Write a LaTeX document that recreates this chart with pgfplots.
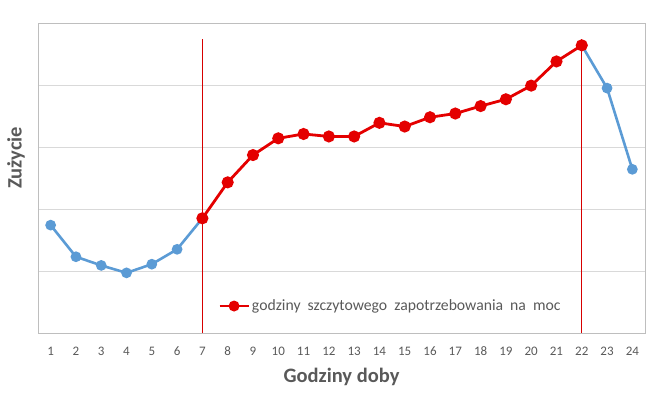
\documentclass[border=0pt]{standalone}
\usepackage{fontspec}
\setmainfont{Carlito}
\usepackage{pgfplots}
\pgfplotsset{compat=1.18}
\definecolor{cblue}{RGB}{91,155,213}
\definecolor{cred}{RGB}{228,0,0}
\definecolor{cvline}{RGB}{215,0,0}
\definecolor{cgrid}{RGB}{217,217,217}
\definecolor{cframe}{RGB}{190,190,190}
\definecolor{ctext}{RGB}{89,89,89}
\begin{document}
\begin{tikzpicture}[x=1pt,y=1pt]
\path[use as bounding box] (0,0) rectangle (662,392);
\begin{axis}[
  at={(38pt,59pt)}, anchor=south west,
  scale only axis, width=607pt, height=310pt,
  xmin=0.5, xmax=24.5, ymin=0, ymax=5,
  xtick={1,...,24},
  xticklabels={1,2,3,4,5,6,7,8,9,10,11,12,13,14,15,16,17,18,19,20,21,22,23,24},
  ytick={1,2,3,4}, yticklabels={},
  major tick length=0pt,
  ymajorgrids, grid style={cgrid, line width=0.8pt},
  axis line style={cframe, line width=0.8pt},
  tick label style={font=\fontsize{13}{15}\selectfont, text=ctext},
  xticklabel style={anchor=base, yshift=-22pt},
  xlabel={Godziny doby}, ylabel={Zużycie},
  label style={font=\fontsize{20.5}{24}\selectfont\bfseries, text=ctext},
  xlabel style={at={(axis description cs:0.5,-0.142)}, anchor=center},
  ylabel style={at={(axis description cs:-0.036,0.565)}, anchor=center, rotate=0},
  legend style={at={(axis description cs:0.2965,0.087)}, anchor=west, draw=none, fill=none,
    font=\fontsize{15.7}{18}\selectfont, text=ctext, inner sep=0pt,
    /tikz/every even column/.style={column sep=9pt}},
  legend cell align=left,
  legend image code/.code={
    \draw[cred, line width=2.8pt] (0pt,0pt) -- (29pt,0pt);
    \fill[cred] (14.5pt,0pt) circle (4pt);
  },
]
\addplot[cvline, line width=1.2pt, forget plot] coordinates {(7,0) (7,4.74)};
\addplot[cvline, line width=1.2pt, forget plot] coordinates {(22,0) (22,4.74)};
\addplot[cblue, line width=2.6pt, mark=*, mark size=4pt, mark options={fill=cblue, draw=none}, forget plot] coordinates {
(1,1.74) (2,1.23) (3,1.09) (4,0.97) (5,1.11) (6,1.35) (7,1.85)};
\addplot[cblue, line width=2.6pt, mark=*, mark size=4pt, mark options={fill=cblue, draw=none}, forget plot] coordinates {
(22,4.64) (23,3.95) (24,2.64)};
\addplot[cred, line width=2.8pt, mark=*, mark size=4.6pt, mark options={fill=cred, draw=none}] coordinates {
(7,1.85) (8,2.43) (9,2.87) (10,3.14) (11,3.21) (12,3.17) (13,3.17) (14,3.39) (15,3.33) (16,3.48) (17,3.54) (18,3.66) (19,3.77) (20,3.99) (21,4.38) (22,4.64)};
\addlegendentry{godziny\ \ szczytowego\ \ zapotrzebowania\ \ na\ \ moc}
\end{axis}
\end{tikzpicture}
\end{document}
